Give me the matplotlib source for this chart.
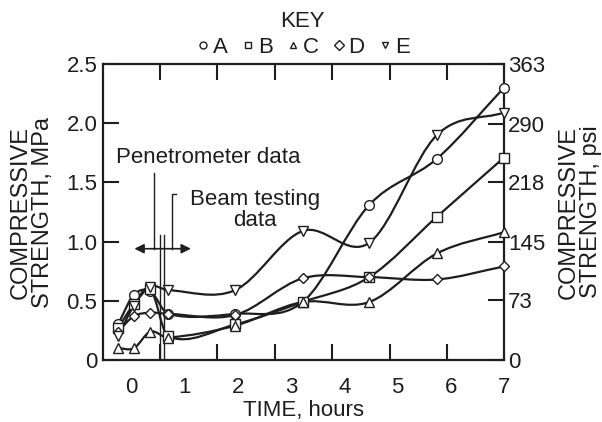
import matplotlib
matplotlib.use("Agg")
import matplotlib.pyplot as plt
from matplotlib.path import Path
from matplotlib.patches import PathPatch
from matplotlib.lines import Line2D
import numpy as np

plt.rcParams['font.family'] = ['Liberation Sans', 'DejaVu Sans']

# ---- data (hours, MPa) ----
time_h = [-0.25, 0.05, 0.36, 0.69, 1.95, 3.22, 4.47, 5.74, 7.0]
series_A = [0.30, 0.55, 0.58, 0.39, 0.39, 0.49, 1.31, 1.70, 2.30]
series_B = [0.27, 0.47, 0.60, 0.20, 0.30, 0.49, 0.70, 1.21, 1.71]
series_C = [0.10, 0.10, 0.24, 0.19, 0.29, 0.49, 0.49, 0.90, 1.08]
series_D = [0.24, 0.37, 0.40, 0.39, 0.38, 0.69, 0.70, 0.68, 0.79]
series_E = [0.20, 0.46, 0.62, 0.59, 0.59, 1.09, 0.99, 1.90, 2.09]
series_names = ['A', 'B', 'C', 'D', 'E']
series_markers = ['o', 's', '^', 'D', 'v']
x_ticklabels = ['0', '1', '2', '3', '4', '5', '6', '7']
x_tickmarks = [0.54, 1.61, 2.70, 3.77, 4.86, 5.93]
mpa_ticks = [0, 0.5, 1.0, 1.5, 2.0, 2.5]
mpa_ticklabels = ['0', '0.5', '1.0', '1.5', '2.0', '2.5']
psi_ticks = [0, 73, 145, 218, 290, 363]

LC = '#1e1e1e'
FS = 16

fig = plt.figure(figsize=(6.02, 4.22), dpi=100)
ax = fig.add_axes([0.1711, 0.1469, 0.6661, 0.7014])
ax.set_xlim(-0.53, 7.0)
ax.set_ylim(0, 2.5)


def smooth_path(x, y):
    x = np.asarray(x, float)
    y = np.asarray(y, float)
    n = len(x)
    m = np.zeros(n)
    for i in range(n):
        if i == 0:
            m[i] = (y[1] - y[0]) / (x[1] - x[0])
        elif i == n - 1:
            m[i] = (y[-1] - y[-2]) / (x[-1] - x[-2])
        else:
            m[i] = (y[i + 1] - y[i - 1]) / (x[i + 1] - x[i - 1])
    verts = [(x[0], y[0])]
    codes = [Path.MOVETO]
    for i in range(n - 1):
        h = x[i + 1] - x[i]
        verts += [(x[i] + h / 3, y[i] + m[i] * h / 3),
                  (x[i + 1] - h / 3, y[i + 1] - m[i + 1] * h / 3),
                  (x[i + 1], y[i + 1])]
        codes += [Path.CURVE4] * 3
    return Path(verts, codes)


all_series = [series_A, series_B, series_C, series_D, series_E]
msizes = {'o': 7, 's': 7, '^': 7, 'D': 5.5, 'v': 7}
for vals, mk in zip(all_series, series_markers):
    ax.add_patch(PathPatch(smooth_path(time_h, vals), facecolor='none',
                           edgecolor=LC, lw=1.6, zorder=3))
    ax.plot(time_h, vals, linestyle='none', marker=mk, ms=msizes[mk],
            mfc='white', mec=LC, mew=1.0, zorder=4, clip_on=False)

# annotations
ax.plot([0.42, 0.42], [0.94, 1.58], color=LC, lw=1.0, zorder=2)
ax.plot([0.84, 0.76, 0.76], [1.40, 1.40, 0.94], color=LC, lw=1.0, zorder=2)
ax.plot([0.54, 0.54], [0, 1.06], color=LC, lw=1.0, zorder=2)
ax.plot([0.62, 0.62], [0, 1.06], color=LC, lw=1.0, zorder=2)
ax.annotate('', xy=(0.06, 0.94), xytext=(1.12, 0.94),
            arrowprops=dict(arrowstyle='<|-|>', color=LC, lw=1.2,
                            mutation_scale=14, shrinkA=0, shrinkB=0))
ax.text(1.44, 1.71, 'Penetrometer data', ha='center', va='center',
        fontsize=FS, color=LC)
ax.text(2.32, 1.27, 'Beam testing\ndata', ha='center', va='center',
        fontsize=FS, color=LC, multialignment='center', linespacing=1.0)

# axes styling
for sp in ax.spines.values():
    sp.set_linewidth(1.6)
    sp.set_color(LC)

ax.set_xticks(x_tickmarks)
ax.set_xticklabels([])
ax.set_xticks(list(range(8)), minor=True)
ax.set_xticklabels(x_ticklabels, minor=True)
ax.tick_params(axis='x', which='major', direction='in', length=11.5,
               width=1.5, top=True, bottom=True, colors=LC)
ax.tick_params(axis='x', which='minor', length=0, pad=12, labelsize=FS,
               labelcolor=LC)

ax.set_yticks(mpa_ticks)
ax.set_yticklabels(mpa_ticklabels)
ax.tick_params(axis='y', direction='in', length=11.5, width=1.5,
               pad=4, labelsize=FS, colors=LC)
ax.set_xlabel('TIME, hours', fontsize=FS, color=LC, labelpad=2)
ax.set_ylabel('COMPRESSIVE\nSTRENGTH, MPa', fontsize=17, color=LC,
              linespacing=1.0, labelpad=9)

ax2 = ax.twinx()
ax2.set_ylim(0, 362.6)
ax2.set_yticks(psi_ticks)
ax2.tick_params(axis='y', direction='in', length=11.5, width=1.5,
                pad=3, labelsize=FS, colors=LC)
ax2.set_ylabel('COMPRESSIVE\nSTRENGTH, psi', fontsize=17, color=LC,
               linespacing=1.0, labelpad=9)
for sp in ax2.spines.values():
    sp.set_visible(False)

# key
handles = [Line2D([], [], linestyle='none', marker=mk, ms=5, mfc='white',
                  mec=LC, mew=1.0) for mk in series_markers]
leg = fig.legend(handles, series_names, loc='upper center',
                 bbox_to_anchor=(0.503, 1.01), ncol=5, frameon=False,
                 fontsize=FS, title='KEY', title_fontsize=FS,
                 handlelength=0.6, handletextpad=0.15, columnspacing=0.6,
                 borderpad=0.2, labelspacing=0.2)
for t in leg.get_texts():
    t.set_color(LC)
leg.get_title().set_color(LC)

fig.savefig('out.png', dpi=100)
